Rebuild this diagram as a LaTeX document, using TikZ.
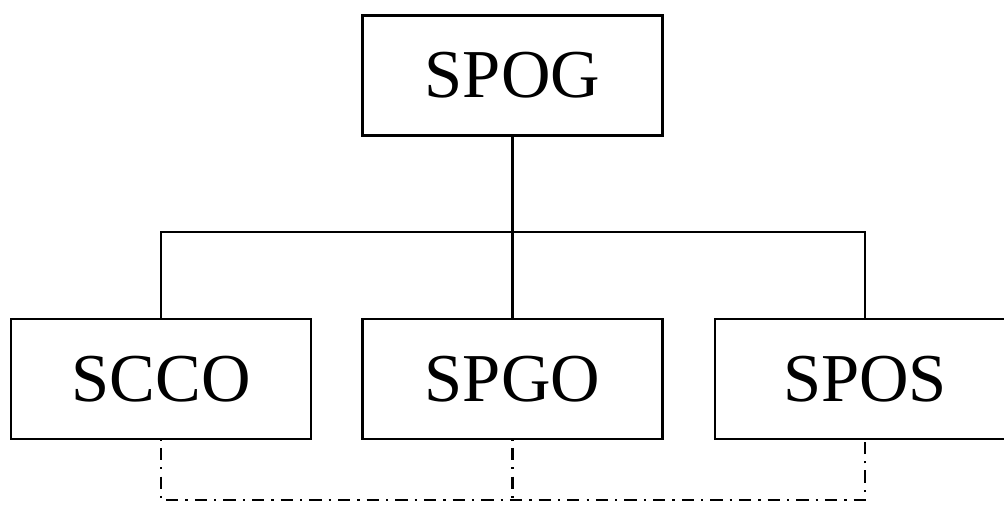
\documentclass[tikz,border=0pt]{standalone}
\usepackage{fontspec}
\setmainfont{Liberation Serif}
\begin{document}
\begin{tikzpicture}[line width=1.4pt,
        unit/.style={draw=black, line width=1.5pt, minimum width=6cm, minimum height=2.4cm, inner sep=0pt, font=\fontsize{39}{46}\selectfont},
        link/.style={dash pattern=on 7pt off 4pt on 1.3pt off 4pt, dash phase=12pt}]
        \useasboundingbox (0,0) rectangle (20.08,10.1);

        \node[unit] (spog) at (10.25, 8.59) {SPOG};
        \node[unit] (scco) at (3.22, 2.52) {SCCO};
        \node[unit] (spgo) at (10.25, 2.52) {SPGO};
        \node[unit] (spos) at (17.3, 2.52) {SPOS};

        \coordinate (bar) at (0, 5.46);
        \coordinate (base) at (0, 0.1);

        \draw (spog.south) -- (spog.south |- bar);
        \draw (scco.north) |- (spos.north |- bar) -- (spos.north);
        \draw (spgo.north) -- (spgo.north |- bar);

        \draw[link] (scco.south) |- (spos.south |- base) -- (spos.south);
        \draw[link] (spgo.south) -- (spgo.south |- base);
    \end{tikzpicture}
\end{document}
